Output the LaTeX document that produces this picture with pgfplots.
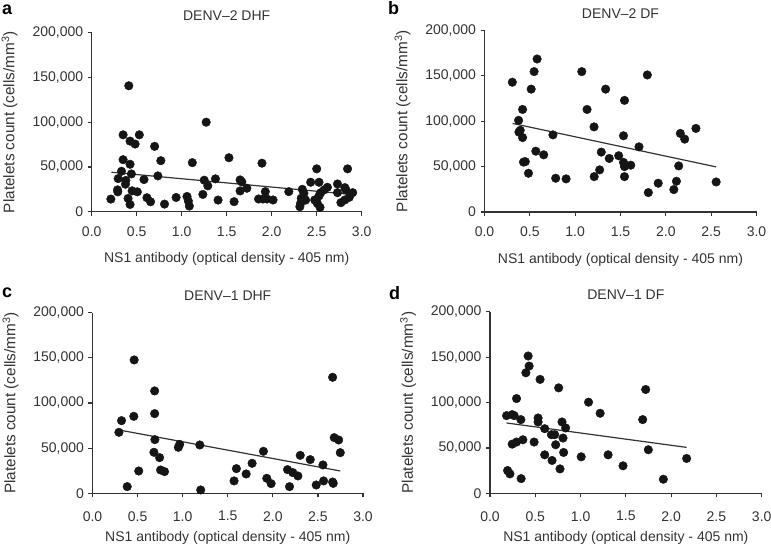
\documentclass[border=0pt]{standalone}
\usepackage{fontspec}
\setmainfont{Liberation Sans}
\usepackage{pgfplots}
\pgfplotsset{compat=1.18}
\definecolor{ax}{HTML}{333333}
\definecolor{dot}{HTML}{151515}
\pgfplotsset{
  panel/.style={
    scale only axis,
    xmin=0, xmax=3, ymin=0, ymax=200000,
    axis x line=bottom, axis y line=left,
    axis line style={-, draw=ax, line width=1.2pt},
    tick align=outside, major tick length=4pt,
    tick style={draw=ax, line width=1.2pt},
    xtick={0,0.5,1,1.5,2,2.5,3},
    ytick={0,50000,100000,150000,200000},
    scaled y ticks=false, scaled x ticks=false,
    /pgf/number format/assume math mode=true,
    tick label style={font=\fontsize{14}{16}\selectfont, text=ax},
    xticklabel style={/tikz/yshift=-7.5pt, /pgf/number format/fixed, /pgf/number format/fixed zerofill, /pgf/number format/precision=1},
    yticklabel style={/tikz/xshift=-1pt, /pgf/number format/fixed, /pgf/number format/1000 sep={,}},
    label style={font=\fontsize{14}{16}\selectfont, text=ax},
    title style={font=\fontsize{14}{16}\selectfont, text=ax, at={(axis description cs:0.5,1)}, yshift=11pt, anchor=center},
    xlabel style={at={(axis description cs:0.5,0)}, yshift=-47.5pt, anchor=center},
    ylabel style={at={(axis description cs:0,0.5)}, yshift=82pt, anchor=center, font=\fontsize{15.3}{17}\selectfont},
    xlabel={NS1 antibody (optical density - 405 nm)},
    ylabel={Platelets count (cells/mm\textsuperscript{3})},
    clip=false,
  },
  lower/.style={xticklabel style={/tikz/yshift=-3pt}, xlabel style={/tikz/yshift=3pt}},
  dots/.style={only marks, mark=*, mark size=4.3pt, mark options={fill=dot, draw=dot}},
  fit/.style={no marks, line width=1.2pt, color=ax},
}
\begin{document}
\begin{tikzpicture}
\useasboundingbox (0pt,0pt) rectangle (771pt,-548pt);

% ---------- a ----------
\begin{axis}[panel, at={(91.7pt,-211.7pt)}, anchor=south west, width=270pt, height=179pt, title={DENV–2 DHF}]
\addplot[dots] coordinates {
(0.213,14100) (0.412,140700) (0.349,85900) (0.529,85900) (0.426,78900) (0.482,75600)
(0.699,73000) (0.349,58100) (0.768,57000) (0.426,53000) (1.118,54800) (0.331,45200)
(0.441,42200) (0.294,37000) (0.379,35000) (0.375,30700) (0.581,35900) (0.735,40000)
(0.287,24400) (0.290,22200) (0.449,23300) (0.507,22200) (0.404,14800) (0.426,8100)
(0.614,15600) (0.654,11100) (0.809,8500) (0.938,15900) (1.059,17000) (1.074,11900)
(1.085,6300) (1.272,100000) (1.250,35200) (1.290,28900) (1.235,19300) (1.375,36700)
(1.404,13000) (1.525,60300) (1.892,54200) (2.500,47900) (2.843,47900) (1.582,11200)
(1.649,35500) (1.668,33300) (1.649,23200) (1.724,26200) (1.929,22400) (1.854,14200)
(1.903,14200) (1.948,14200) (2.015,13100) (2.190,22400) (2.340,25000) (2.358,20600)
(2.328,15000) (2.377,13000) (2.321,9300) (2.313,5600) (2.433,32900) (2.526,32900)
(2.478,13100) (2.507,9300) (2.537,4900) (2.545,21300) (2.582,24300) (2.619,27300)
(2.526,17600) (2.731,31000) (2.731,21300) (2.813,26900) (2.825,24300) (2.900,21300)
(2.862,16100) (2.813,13100) (2.769,10100)
};
\addplot[fit] coordinates {(0.22,44100) (2.873,19400)};
\end{axis}

% ---------- b ----------
\begin{axis}[panel, at={(484.5pt,-212pt)}, anchor=south west, width=272pt, height=181.5pt, title={DENV–2 DF}]
\addplot[dots] coordinates {
(0.307,143000) (0.580,168600) (0.547,154700) (0.515,135400) (0.420,113000) (0.376,101000)
(0.394,90000) (0.380,88000) (0.420,82000) (0.450,55500) (0.430,55000) (0.485,42700)
(0.566,67000) (0.653,63000) (0.755,85000) (0.785,37200) (0.900,36500) (1.073,154700)
(1.131,113000) (1.208,93800) (1.336,135400) (1.288,66000) (1.376,59000) (1.270,46400)
(1.210,39000) (1.480,62000) (1.544,123000) (1.533,84000) (1.533,54700) (1.544,50000)
(1.544,39000) (1.613,51600) (1.704,71800) (1.796,151000) (1.807,21400) (1.916,31700)
(2.088,24700) (2.117,33900) (2.142,50800) (2.160,86600) (2.208,80300) (2.332,92100)
(2.555,33100)
};
\addplot[fit] coordinates {(0.31,97600) (2.555,49700)};
\end{axis}

% ---------- c ----------
\begin{axis}[panel, lower, at={(92.5pt,-493.3pt)}, anchor=south west, width=270.5pt, height=180.7pt, title={DENV–1 DHF}]
\addplot[dots] coordinates {
(0.293,67500) (0.322,80400) (0.385,7400) (0.458,85200) (0.462,147600) (0.513,24700)
(0.689,113300) (0.689,88200) (0.692,59400) (0.681,45400) (0.744,39500) (0.755,25800)
(0.799,24000) (0.952,50900) (0.967,54200) (1.190,53500) (1.200,3700) (1.570,13700)
(1.596,27300) (1.704,21400) (1.770,33200) (1.896,46500) (1.933,16600) (1.981,10700)
(2.163,26200) (2.185,7400) (2.222,22900) (2.278,19200) (2.304,42000) (2.415,37300)
(2.481,9200) (2.556,31400) (2.563,13700) (2.663,12500) (2.670,11000) (2.663,128400)
(2.681,61600) (2.730,59000) (2.748,45000)
};
\addplot[fit] coordinates {(0.293,70100) (2.748,24700)};
\end{axis}

% ---------- d ----------
\begin{axis}[panel, lower, at={(490pt,-493.3pt)}, anchor=south west, width=271.7pt, height=181.5pt, title={DENV–1 DF}]
\addplot[dots] coordinates {
(0.183,85600) (0.245,86700) (0.267,85600) (0.293,104400) (0.341,81200) (0.421,151300)
(0.432,140200) (0.396,132800) (0.553,125500) (0.758,116200) (1.088,100400) (1.216,88200)
(0.531,83000) (0.531,78600) (0.604,71200) (0.795,78600) (0.835,72000) (0.678,64600)
(0.714,64600) (0.806,60900) (0.245,54200) (0.293,56500) (0.363,59000) (0.487,56500)
(0.725,53500) (0.813,45000) (0.604,42400) (0.685,36200) (0.773,26900) (1.007,40200)
(1.304,42400) (1.469,30300) (0.194,25100) (0.220,21400) (0.344,16200) (1.686,81200)
(1.719,114400) (1.748,48000) (1.914,15500) (2.171,38400)
};
\addplot[fit] coordinates {(0.183,77500) (2.171,50600)};
\end{axis}

\node[anchor=base west, inner sep=0pt, font=\fontsize{18}{20}\selectfont\bfseries, text=black] at (2pt,-15pt) {a};
\node[anchor=base west, inner sep=0pt, font=\fontsize{18}{20}\selectfont\bfseries, text=black] at (388pt,-15pt) {b};
\node[anchor=base west, inner sep=0pt, font=\fontsize{18}{20}\selectfont\bfseries, text=black] at (2pt,-297pt) {c};
\node[anchor=base west, inner sep=0pt, font=\fontsize{18}{20}\selectfont\bfseries, text=black] at (389pt,-299pt) {d};
\end{tikzpicture}
\end{document}
